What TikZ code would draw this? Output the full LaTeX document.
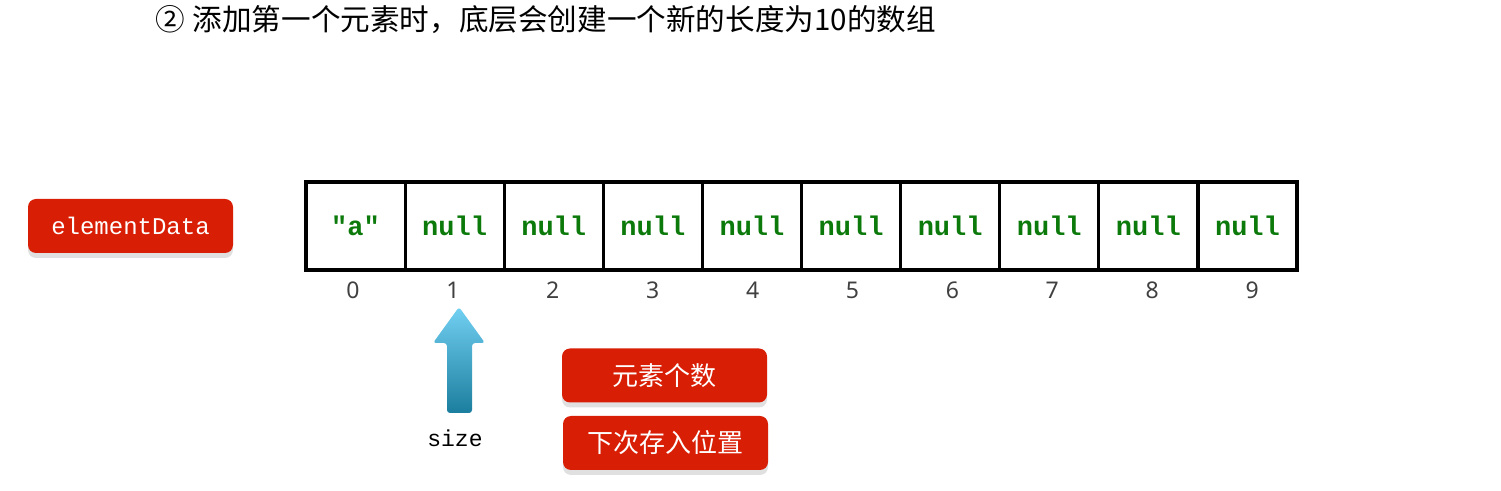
\documentclass[tikz,border=0pt]{standalone}
\usepackage{fontspec}
\setmainfont{Noto Sans}
\setmonofont{Liberation Mono}
\newfontfamily\cjk{Noto Sans CJK SC}
\usetikzlibrary{shadows}
\definecolor{boxred}{HTML}{D91E06}
\definecolor{nullgreen}{HTML}{0B7A0B}
\definecolor{arrowtop}{HTML}{72D0F2}
\definecolor{arrowbot}{HTML}{1C7E9E}
\tikzset{
  cell/.style={draw, line width=1.6pt, minimum width=49.55pt, minimum height=44pt, inner sep=0pt,
    font=\ttfamily\bfseries\fontsize{13.5}{13.5}\selectfont, text=nullgreen},
  redbox/.style={fill=boxred, rounded corners=4pt, minimum width=102.5pt, minimum height=27pt, text=white,
    drop shadow={shadow xshift=0pt, shadow yshift=-2.5pt, fill=black, opacity=0.12}},
  idx/.style={text=black!75, font=\fontsize{11.5}{11.5}\selectfont}
}
\begin{document}
\begin{tikzpicture}[x=0.5pt,y=-0.5pt]
    \useasboundingbox (0,0) rectangle (1501,491);
    \node[anchor=west, font=\cjk\fontsize{14.8}{14.8}\selectfont] (title) at (148,20) {②\hspace{4pt}添加第一个元素时，底层会创建一个新的长度为10的数组};
    \node[redbox, font=\ttfamily\fontsize{12}{12}\selectfont] (elem) at (130.5,226) {elementData};
    \def\vals{{"a"},null,null,null,null,null,null,null,null,null}
    \foreach \v [count=\i from 0] in \vals {\node[cell] (c\i) at ({355.55+99.1*\i},226) {\v};}
    \foreach \i in {0,...,9} {\node[idx] (n\i) at ({353+99.9*\i},290) {\i};}
    %pointer
    \shade[top color=arrowtop, bottom color=arrowbot, rounded corners=1.5pt]
      (447,413) -- (447,343) -- (433,343) -- (459,307) -- (485,343) -- (472,343) -- (472,413) -- cycle;
    \node[font=\ttfamily\fontsize{11.5}{11.5}\selectfont] (size) at (455,438) {size};
    \node[redbox, font=\cjk\fontsize{13}{13}\selectfont] (count) at (664.5,375.5) {元素个数};
    \node[redbox, font=\cjk\fontsize{13}{13}\selectfont] (next) at (665.5,443) {下次存入位置};
  \end{tikzpicture}
\end{document}
